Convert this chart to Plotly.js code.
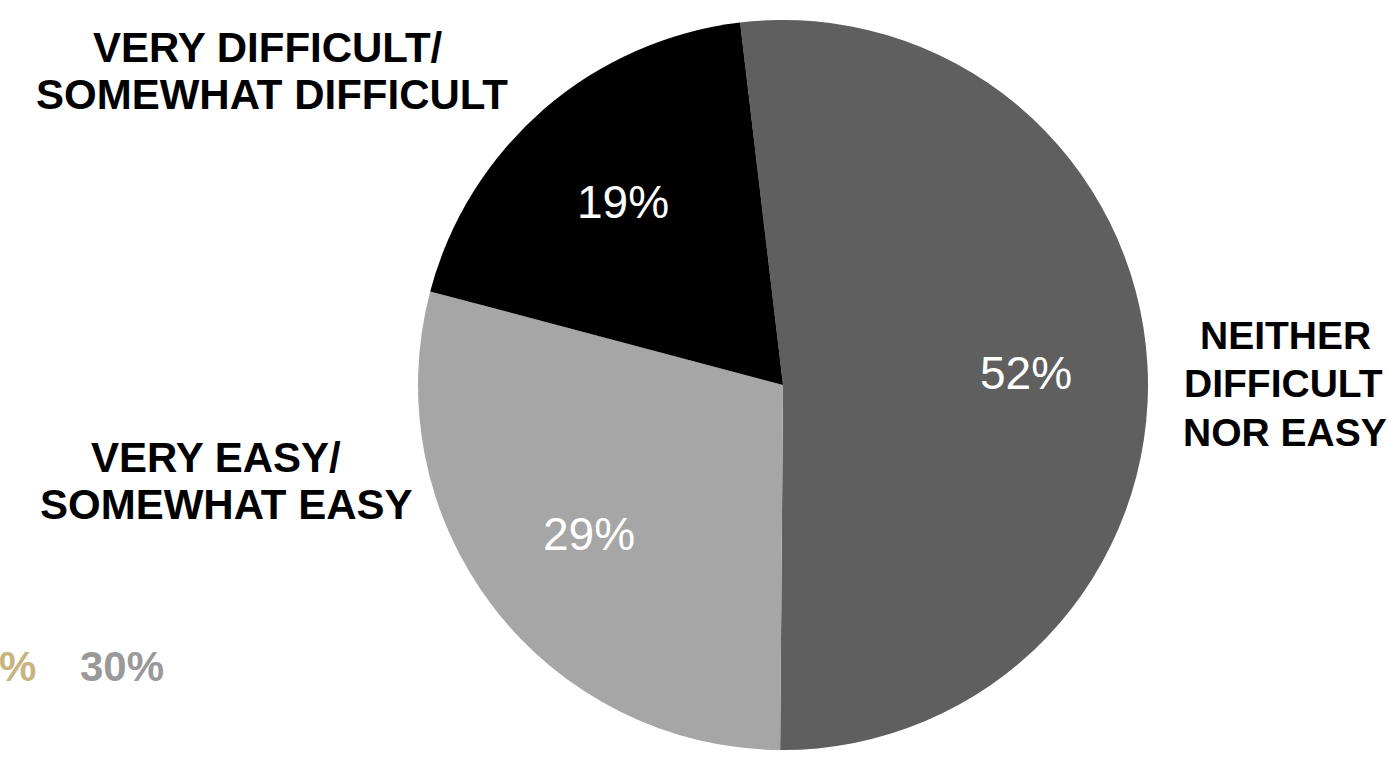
<!DOCTYPE html>
<html>
<head>
<meta charset="utf-8">
<script src="https://cdn.plot.ly/plotly-3.0.1.min.js"></script>
<style>html,body{margin:0;padding:0;background:#fff;}#chart{width:1388px;height:764px;}</style>
</head>
<body>
<div id="chart"></div>
<script>
const categories = ["NEITHER DIFFICULT NOR EASY", "VERY EASY/SOMEWHAT EASY", "VERY DIFFICULT/SOMEWHAT DIFFICULT"];
const values = [52, 29, 19];
const sliceColors = ["#5f5f5f", "#a6a6a6", "#000000"];
const labelLines = [["NEITHER", "DIFFICULT", "NOR EASY"], ["VERY EASY/", "SOMEWHAT EASY"], ["VERY DIFFICULT/", "SOMEWHAT DIFFICULT"]];
const fragmentTexts = ["%", "30%"];
const fragmentColors = ["#c8b47e", "#999999"];

const W = 1388, H = 764;
const cx = 783, cy = 385, R = 365;
const rotation = -6.75;
const FONT = "Liberation Sans, Arial, Helvetica, sans-serif";

const trace = {
  type: "pie",
  labels: categories,
  values: values,
  sort: false,
  direction: "clockwise",
  rotation: rotation,
  marker: {colors: sliceColors, line: {width: 0}},
  textinfo: "none",
  domain: {x: [(cx - R) / W, (cx + R) / W], y: [1 - (cy + R) / H, 1 - (cy - R) / H]},
  showlegend: false,
  hoverinfo: "label+value"
};

const annotations = [];
// percentage labels inside slices, placed along each slice's bisector
const total = values.reduce((a, b) => a + b, 0);
let acc = 0;
values.forEach((v, i) => {
  const mid = (rotation + 360 * (acc + v / 2) / total) * Math.PI / 180;
  acc += v;
  const r = 0.668 * R;
  const px = cx + r * Math.sin(mid);
  const py = cy - r * Math.cos(mid) + 1;
  annotations.push({text: v + "%", x: px / W, y: 1 - py / H, xref: "paper", yref: "paper", showarrow: false,
    xanchor: "center", yanchor: "middle", font: {family: FONT, size: 46, color: "#ffffff"}});
});

// outside category labels (one annotation per line)
const labelPos = [
  {x: [1285, 1283, 1285], y: [334, 382, 431], size: 39},
  {x: [216, 226], y: [456, 504], size: 42},
  {x: [268, 272], y: [46, 94], size: 42}
];
labelLines.forEach((lines, i) => {
  lines.forEach((t, j) => {
    annotations.push({text: "<b>" + t + "</b>", x: labelPos[i].x[j] / W, y: 1 - (labelPos[i].y[j] + 1) / H,
      xref: "paper", yref: "paper", showarrow: false, xanchor: "center", yanchor: "middle",
      font: {family: FONT, size: labelPos[i].size, color: "#000000"}});
  });
});

annotations.push({text: "<b>" + fragmentTexts[0] + "</b>", x: 38 / W, y: 1 - 666 / H, xref: "paper", yref: "paper", showarrow: false, xanchor: "right", yanchor: "middle", font: {family: FONT, size: 42, color: fragmentColors[0]}});
annotations.push({text: "<b>" + fragmentTexts[1] + "</b>", x: 78 / W, y: 1 - 666 / H, xref: "paper", yref: "paper", showarrow: false, xanchor: "left", yanchor: "middle", font: {family: FONT, size: 42, color: fragmentColors[1]}});

const layout = {
  width: W, height: H,
  margin: {l: 0, r: 0, t: 0, b: 0},
  paper_bgcolor: "#ffffff",
  plot_bgcolor: "#ffffff",
  annotations: annotations
};

Plotly.newPlot("chart", [trace], layout, {displayModeBar: false, staticPlot: true});
</script>
</body>
</html>
